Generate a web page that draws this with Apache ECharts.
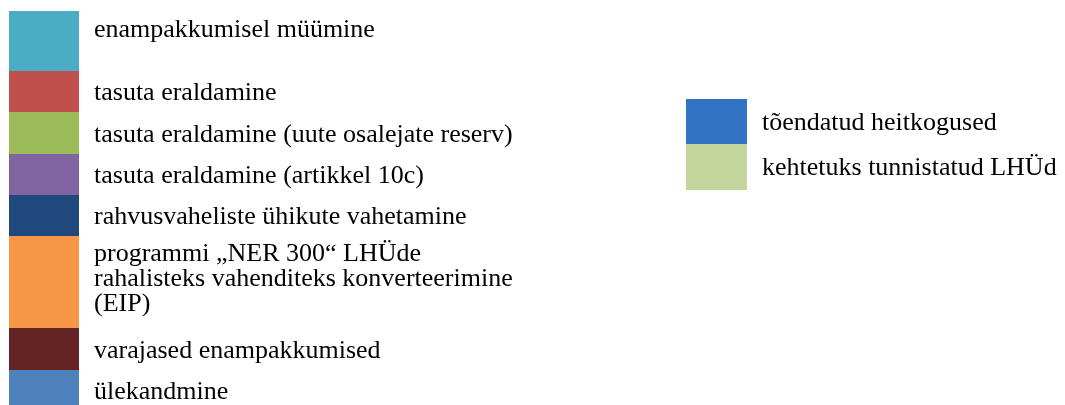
<!DOCTYPE html>
<html>
<head>
<meta charset="utf-8">
<script src="https://cdn.jsdelivr.net/npm/echarts@6/dist/echarts.min.js"></script>
<style>
  html, body { margin: 0; padding: 0; background: #fff; }
  #chart { width: 1065px; height: 405px; }
</style>
</head>
<body>
<div id="chart"></div>
<script>
// vasak tulp: jaotamise viisid (ploki kõrgus)
var leftNames = [
  'enampakkumisel müümine',
  'tasuta eraldamine',
  'tasuta eraldamine (uute osalejate reserv)',
  'tasuta eraldamine (artikkel 10c)',
  'rahvusvaheliste ühikute vahetamine',
  'programmi „NER 300“ LHÜde\nrahalisteks vahenditeks konverteerimine\n(EIP)',
  'varajased enampakkumised',
  'ülekandmine'
];
var leftValues = [60, 41, 42, 41, 41, 92, 42, 35];

// parem tulp
var rightNames = ['tõendatud heitkogused', 'kehtetuks tunnistatud LHÜd'];
var rightValues = [45, 46];

var leftColors = ['#4BACC6', '#C0504D', '#9BBB59', '#8064A2', '#1F497D', '#F79646', '#632423', '#4F81BD'];
var leftOffsets = [[0, -11], [0, 2], [0, 2], [0, 2], [0, 2], [0, -3], [0, 2], [0, 5]];
var rightColors = ['#3273C3', '#C3D69B'];
var rightOffsets = [[0, 2], [0, 1]];

var labelBase = {
  show: true,
  position: 'right',
  distance: 15,
  color: '#000',
  fontFamily: 'Liberation Serif',
  fontSize: 26,
  lineHeight: 25,
  align: 'left'
};

function sum(arr) {
  return arr.reduce(function (a, b) { return a + b; }, 0);
}

var series = [];
leftNames.forEach(function (name, i) {
  series.push({
    name: name,
    type: 'bar',
    stack: 'left',
    xAxisIndex: 0,
    yAxisIndex: 0,
    barWidth: '100%',
    itemStyle: { color: leftColors[i] },
    label: Object.assign({}, labelBase, { offset: leftOffsets[i], formatter: name }),
    data: [leftValues[i]]
  });
});
rightNames.forEach(function (name, i) {
  series.push({
    name: name,
    type: 'bar',
    stack: 'right',
    xAxisIndex: 1,
    yAxisIndex: 1,
    barWidth: '100%',
    itemStyle: { color: rightColors[i] },
    label: Object.assign({}, labelBase, { offset: rightOffsets[i], formatter: name }),
    data: [rightValues[i]]
  });
});

var chart = echarts.init(document.getElementById('chart'));
chart.setOption({
  animation: false,
  grid: [
    { left: 9, top: 11, width: 70, height: sum(leftValues) },
    { left: 686, top: 99, width: 61, height: sum(rightValues) }
  ],
  xAxis: [
    { type: 'category', data: ['a'], gridIndex: 0, show: false },
    { type: 'category', data: ['b'], gridIndex: 1, show: false }
  ],
  yAxis: [
    { type: 'value', gridIndex: 0, inverse: true, min: 0, max: sum(leftValues), show: false },
    { type: 'value', gridIndex: 1, inverse: true, min: 0, max: sum(rightValues), show: false }
  ],
  series: series
});
</script>
</body>
</html>
